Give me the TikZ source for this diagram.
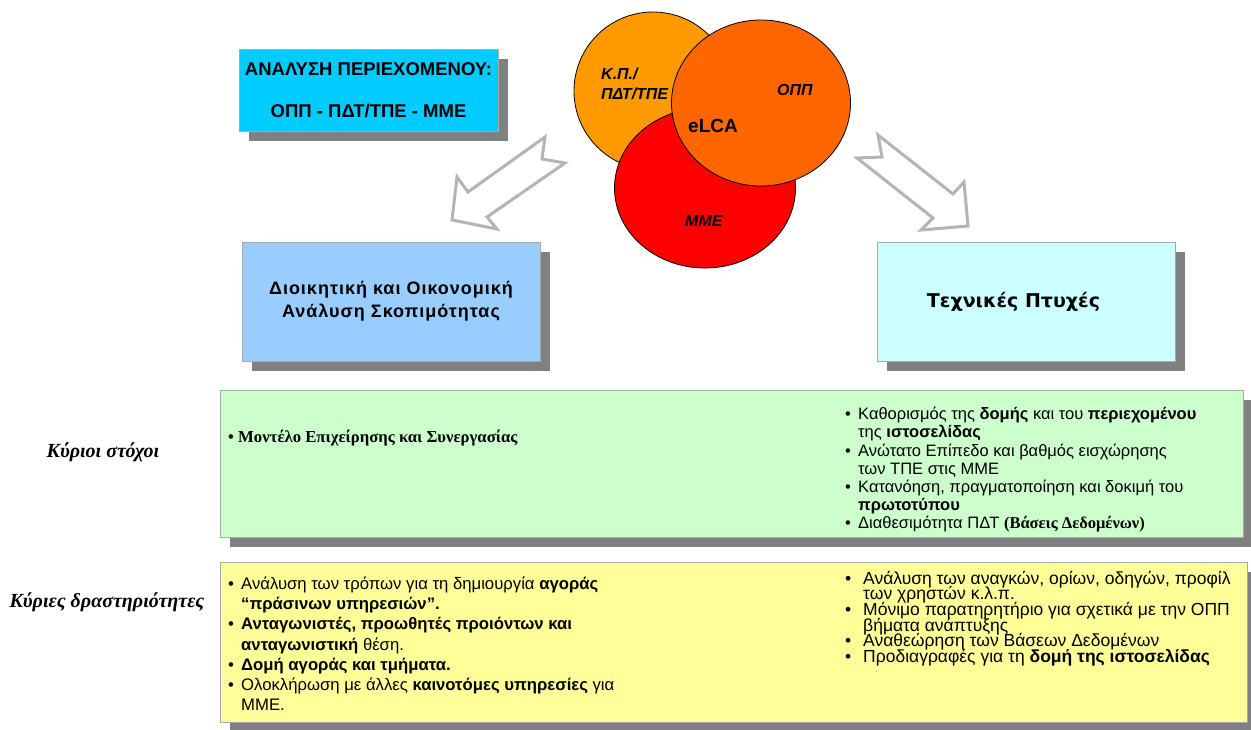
\documentclass[tikz,border=0pt]{standalone}
\usepackage{fontspec}
\setmainfont{Liberation Serif}
\setsansfont{Liberation Sans}
\newfontfamily\verdfont{DejaVu Sans}
\usetikzlibrary{shapes.geometric,shadows,positioning}

\definecolor{cyanbox}{HTML}{00CCFF}
\definecolor{bluebox}{HTML}{99CCFF}
\definecolor{aquabox}{HTML}{CCFFFF}
\definecolor{greenbox}{HTML}{CCFFCC}
\definecolor{yellowbox}{HTML}{FFFF99}
\definecolor{kpdisc}{HTML}{FF9900}
\definecolor{mmedisc}{HTML}{FF0000}
\definecolor{oppdisc}{HTML}{FF6600}
\definecolor{shade}{HTML}{808080}
\definecolor{boxline}{HTML}{A8A8A8}
\definecolor{arrowgray}{HTML}{B4B4B4}

\newcommand\bul[1][13pt]{\makebox[#1][l]{•}}
\newcommand\nobul[1][13pt]{\hspace*{#1}}
\newcommand\tightlines{\lineskiplimit=-20pt\relax}

\begin{document}
\begin{tikzpicture}[x=1pt,y=-1pt,
            box/.style={rectangle, draw=boxline, line width=0.8pt, inner sep=0pt,
                    drop shadow={shadow xshift=10pt, shadow yshift=-10pt, fill=shade, opacity=1}},
            disc/.style={ellipse, draw=black, line width=0.8pt, inner sep=0pt},
            fatarrow/.style={draw=arrowgray, line width=3pt, line join=miter, fill=white},
            itemlist/.style={anchor=north west, align=left, inner sep=0pt},
            disclabel/.style={anchor=base west, inner sep=0pt, font=\sffamily\bfseries\itshape\fontsize{16}{20}\selectfont},
            rowlabel/.style={anchor=base, inner sep=0pt, font=\rmfamily\bfseries\itshape\fontsize{20}{24}\selectfont}]

        \useasboundingbox (0,0) rectangle (1251,729);

        % top: content analysis
        \node[box, fill=cyanbox, minimum width=259pt, minimum height=82pt, align=center,
              font=\sffamily\bfseries\fontsize{18.5}{42}\selectfont] (content) at (368.5,90)
              {ΑΝΑΛΥΣΗ ΠΕΡΙΕΧΟΜΕΝΟΥ:\\ΟΠΠ - ΠΔΤ/ΤΠΕ - ΜΜΕ};

        % the three discs
        \node[disc, fill=kpdisc, minimum width=158pt, minimum height=158pt] (kp) at (653,91) {};
        \node[disclabel, align=left, anchor=north west] (kplabel) at (601,68) {Κ.Π./\\ΠΔΤ/ΤΠΕ};
        \node[disc, fill=mmedisc, minimum width=181pt, minimum height=160pt] (mme) at (705,188) {};
        \node[disclabel] (mmelabel) at (685,226) {ΜΜΕ};
        \node[disc, fill=oppdisc, minimum width=179pt, minimum height=166pt] (opp) at (761,103) {};
        \node[disclabel] (opplabel) at (777,95) {ΟΠΠ};
        \node[anchor=base west, inner sep=0pt, font=\sffamily\bfseries\fontsize{19}{22}\selectfont] (elca) at (688,132) {eLCA};

        % arrows
        \draw[fatarrow] (545,137) -- (468,192) -- (457,177) -- (452,220) -- (497,229)
              -- (487,217) -- (565,163) -- (542,159) -- cycle;
        \draw[fatarrow] (878,135) -- (953,194) -- (964,182) -- (968,226) -- (921,230)
              -- (933,218) -- (857,158) -- (882,157) -- cycle;

        % the two branches
        \node[box, fill=bluebox, minimum width=298pt, minimum height=119pt, align=center,
              font=\sffamily\bfseries\fontsize{18}{23}\selectfont\addfontfeature{LetterSpace=5.5}] (admin) at (391,301.5)
              {Διοικητική και Οικονομική\\ Ανάλυση Σκοπιμότητας};
        \node[box, fill=aquabox, minimum width=298pt, minimum height=119pt,
              font=\verdfont\bfseries\fontsize{19}{22}\selectfont] (tech) at (1026,301.5)
              {Τεχνικές Πτυχές\hspace*{25pt}};

        % main goals
        \node[box, fill=greenbox, minimum width=1023pt, minimum height=147pt] (goals) at (731.5,463.5) {};
        \node[rowlabel] (goalstitle) at (103,457) {Κύριοι στόχοι};
        \node[anchor=base west, inner sep=0pt, font=\rmfamily\bfseries\fontsize{16.7}{20}\selectfont] (goalsleft) at (228,442)
              {• Μοντέλο Επιχείρησης και Συνεργασίας};
        \node[itemlist, font=\sffamily\fontsize{16.5}{18.2}\selectfont] (goalsright) at (845,407)
              {\bul Καθορισμός της \textbf{δομής} και του \textbf{περιεχομένου}\\
               \nobul της \textbf{ιστοσελίδας}\\
               \bul Ανώτατο Επίπεδο και βαθμός εισχώρησης\\
               \nobul των ΤΠΕ στις ΜΜΕ\\
               \bul Κατανόηση, πραγματοποίηση και δοκιμή του\\
               \nobul \textbf{πρωτοτύπου}\\
               \bul Διαθεσιμότητα ΠΔΤ {\rmfamily\bfseries(Βάσεις Δεδομένων)}};

        % main activities
        \node[box, fill=yellowbox, minimum width=1027pt, minimum height=160pt] (tasks) at (733.5,642) {};
        \node[rowlabel] (taskstitle) at (107,607) {Κύριες δραστηριότητες};
        \node[itemlist, font=\sffamily\fontsize{16.7}{20.1}\selectfont] (tasksleft) at (228,577)
              {\bul Ανάλυση των τρόπων για τη δημιουργία \textbf{αγοράς}\\
               \nobul \textbf{“πράσινων υπηρεσιών”.}\\
               \bul \textbf{Ανταγωνιστές, προωθητές προιόντων και}\\
               \nobul \textbf{ανταγωνιστική} θέση.\\
               \bul \textbf{Δομή αγοράς και τμήματα.}\\
               \bul Ολοκλήρωση με άλλες \textbf{καινοτόμες υπηρεσίες} για\\
               \nobul ΜΜΕ.};
        \node[itemlist, font=\sffamily\fontsize{17.5}{15.6}\selectfont\tightlines] (tasksright) at (845,571)
              {\bul[18pt]Ανάλυση των αναγκών, ορίων, οδηγών, προφίλ\\
               \nobul[18pt]των χρηστών κ.λ.π.\\
               \bul[18pt]Μόνιμο παρατηρητήριο για σχετικά με την ΟΠΠ\\
               \nobul[18pt]βήματα ανάπτυξης\\
               \bul[18pt]Αναθεώρηση των Βάσεων Δεδομένων\\
               \bul[18pt]Προδιαγραφές για τη \textbf{δομή της ιστοσελίδας}};
    \end{tikzpicture}
\end{document}
